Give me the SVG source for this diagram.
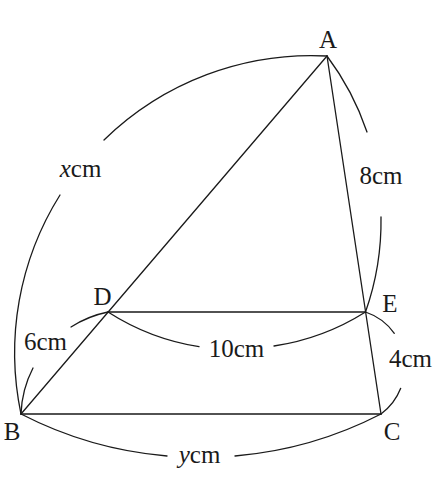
<svg xmlns="http://www.w3.org/2000/svg" width="440" height="495" viewBox="0 0 440 495">
<style>
.ln{stroke:#1a1a1a;stroke-width:1.3;fill:none;stroke-linecap:round}
.arc{stroke:#1a1a1a;stroke-width:1.3;fill:none;stroke-linecap:round}
text{font-family:"Liberation Serif","Times New Roman",serif;font-size:25px;fill:#1a1a1a;text-anchor:middle}
.it{font-style:italic}
</style>
<rect width="440" height="495" fill="#fff"/>
<g id="connectors">
<line class="ln" x1="327" y1="56" x2="21" y2="414"/>
<line class="ln" x1="327" y1="56" x2="381" y2="414"/>
<line class="ln" x1="21" y1="414" x2="381" y2="414"/>
<line class="ln" x1="108" y1="312" x2="365.5" y2="312"/>
</g>
<g id="arcs">
<path class="arc" d="M21 414 A297 297 0 0 1 60 195 M104 140 A297 297 0 0 1 327 56"/>
<path class="arc" d="M327 56 A272 272 0 0 1 367 132 M381 217 A272 272 0 0 1 365.5 312"/>
<path class="arc" d="M21 414 A108 108 0 0 1 33 368 M71 327 A108 108 0 0 1 108 312"/>
<path class="arc" d="M108 312 A237 237 0 0 0 199 346.7 M274 346 A237 237 0 0 0 365.5 312"/>
<path class="arc" d="M365.5 312 A58.2 58.2 0 0 1 394.3 333.3 M400.7 388.3 A58.2 58.2 0 0 1 381 414"/>
<path class="arc" d="M21 414 A390 390 0 0 0 167 456 M235 456 A390 390 0 0 0 381 414"/>
</g>
<g id="A"><text x="328" y="48">A</text></g>
<g id="B"><text x="12" y="440">B</text></g>
<g id="C"><text x="392" y="440">C</text></g>
<g id="D"><text x="102.5" y="305">D</text></g>
<g id="E"><text x="390" y="312">E</text></g>
<g id="labels">
<text x="80.5" y="177"><tspan class="it">x</tspan>cm</text>
<text x="381" y="184">8cm</text>
<text x="45.5" y="350">6cm</text>
<text x="236.5" y="356.5">10cm</text>
<text x="410.5" y="367">4cm</text>
<text x="199.5" y="463"><tspan class="it">y</tspan>cm</text>
</g>
</svg>
